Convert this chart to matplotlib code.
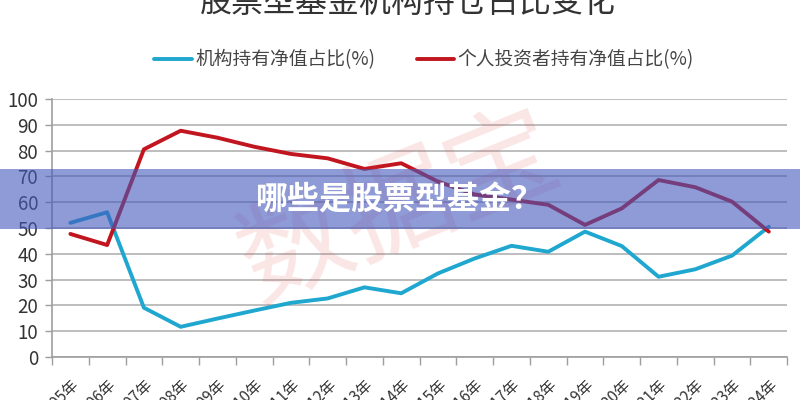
import matplotlib
matplotlib.use("Agg")
import matplotlib.pyplot as plt
import numpy as np

plt.rcParams['font.family'] = ['Noto Sans CJK SC', 'DejaVu Sans']

years = [f"{y}年" for y in range(2005, 2025)]
institution = [52.0, 56.1, 19.1, 11.7, 14.9, 18.0, 21.0, 22.7, 27.0, 24.7,
               32.4, 38.2, 43.1, 40.8, 48.6, 43.0, 31.1, 34.0, 39.3, 50.5]
individual = [47.7, 43.4, 80.5, 87.7, 85.0, 81.5, 78.7, 77.0, 72.9, 75.1,
              68.0, 63.0, 61.0, 59.0, 51.2, 57.6, 68.6, 65.8, 60.2, 48.6]
series_names = ["机构持有净值占比(%)", "个人投资者持有净值占比(%)"]
title = "股票型基金机构持仓占比变化"
banner = "哪些是股票型基金？"
watermark = "数据宝"

fig = plt.figure(figsize=(8, 4), dpi=100)
ax = fig.add_axes([0.065, 0.1075, 0.919, 0.645])

x = np.arange(len(years))
l1, = ax.plot(x, institution, color="#1FA7CF", lw=2.8, solid_capstyle='round', zorder=3)
l2, = ax.plot(x, individual, color="#C1161F", lw=2.8, solid_capstyle='round', zorder=3)

ax.set_xlim(-0.5, len(years) - 0.5)
ax.set_ylim(0, 100)
ax.set_yticks(range(0, 101, 10))
ax.yaxis.grid(True, color="#BDBDBD", lw=1.4)
ax.set_axisbelow(True)

ax.set_xticks(np.arange(-0.5, len(years), 1.0))
ax.set_xticklabels([])
ax.set_xticks(x, minor=True)
ax.set_xticklabels(years, minor=True, rotation=45, ha='right', rotation_mode='anchor',
                   fontsize=11, color="#333333")
ax.tick_params(axis='x', which='major', length=6, color="#9E9E9E", width=1)
ax.tick_params(axis='x', which='minor', length=0, pad=14)
ax.tick_params(axis='y', length=5, color="#9E9E9E", width=1, labelsize=13.5,
               labelcolor="#333333", pad=5)
for s in ['top', 'right']:
    ax.spines[s].set_visible(False)
for s in ['left', 'bottom']:
    ax.spines[s].set_color("#9E9E9E")
    ax.spines[s].set_linewidth(1.2)

# legend
fig.legend([l1, l2], series_names, loc='center', bbox_to_anchor=(0.53, 0.85), ncol=2,
           frameon=False, fontsize=13.5, handlelength=2.0, columnspacing=2.2,
           labelcolor="#444444", handletextpad=0.2)

# title (cut off at top)
fig.text(0.51, 0.993, title, ha='center', va='center', fontsize=23, color="#333333")

# watermark
fig.text(0.50, 0.48, watermark, ha='center', va='center', fontsize=80, rotation=22,
         color="#E24A4A", alpha=0.14, zorder=1)

# banner overlay
fig.patches.append(plt.Rectangle((0, 0.4275), 1, 0.15, transform=fig.transFigure,
                                 facecolor=(68/255, 88/255, 187/255), alpha=0.6,
                                 edgecolor='none', zorder=10))
fig.text(0.5, 0.5, banner, ha='center', va='center', fontsize=23, color='white',
         fontweight='heavy', zorder=11)

fig.savefig("out.png", dpi=100)
